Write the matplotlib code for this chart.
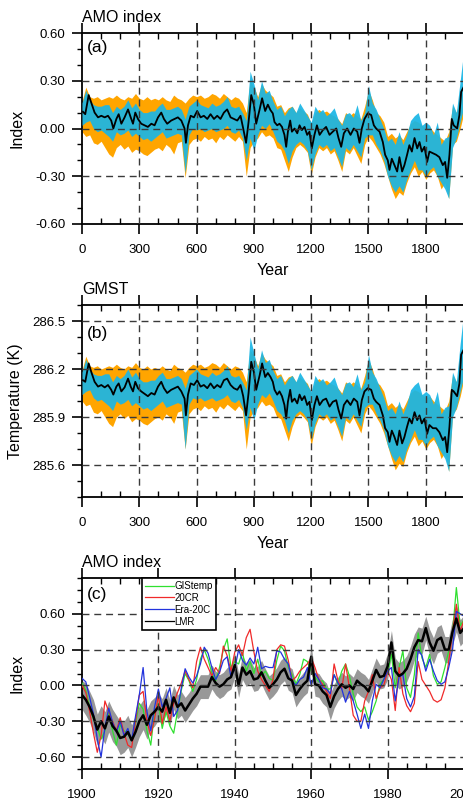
import numpy as np
import matplotlib
matplotlib.use("Agg")
import matplotlib.pyplot as plt
from matplotlib.ticker import MultipleLocator, FixedLocator, FormatStrFormatter

plt.rcParams['font.family'] = ['Liberation Sans', 'DejaVu Sans']
plt.rcParams['axes.unicode_minus'] = False

# ---------------- panel (a) / (b): ensemble mean (irregular years) ----------------
mean_years = [5, 17, 35, 49, 66, 84, 101, 119, 136, 153, 164, 180, 192, 206, 223, 241, 255, 267, 279, 293,
              310, 328, 345, 363, 380, 398, 415, 429, 446, 467, 485, 502, 520, 537, 544, 555, 569, 586, 603, 621,
              638, 656, 673, 691, 708, 725, 743, 760, 778, 795, 813, 830, 844, 859, 872, 886, 900, 912, 930, 943,
              959, 973, 987, 999, 1008, 1022, 1034, 1047, 1060, 1069, 1078, 1090, 1099, 1113, 1127, 1139, 1151,
              1165, 1179, 1191, 1203, 1217, 1230, 1244, 1261, 1278, 1296, 1313, 1331, 1343, 1357, 1371, 1388,
              1406, 1423, 1441, 1453, 1465, 1479, 1496, 1514, 1528, 1540, 1558, 1575, 1587, 1601, 1610, 1622,
              1636, 1650, 1662, 1676, 1688, 1702, 1714, 1727, 1741, 1755, 1767, 1779, 1793, 1807, 1819, 1837,
              1854, 1871, 1889, 1901, 1912, 1924, 1936, 1946, 1964, 1976, 1985, 1998]

amo_mean = [0.105, 0.09, 0.21, 0.16, 0.10, 0.07, 0.08, 0.07, 0.08, 0.05, 0.0, 0.06, 0.09, 0.03, 0.07, 0.12, 0.07,
            0.03, 0.10, 0.06, 0.03, 0.02, 0.01, 0.03, 0.02, 0.07, 0.10, 0.06, 0.03, 0.05, 0.06, 0.07, 0.05, 0.0,
            -0.09, 0.02, 0.08, 0.07, 0.11, 0.07, 0.08, 0.06, 0.09, 0.06, 0.08, 0.06, 0.10, 0.12, 0.07, 0.06, 0.05,
            0.08, 0.0, -0.09, 0.04, 0.21, 0.15, 0.03, 0.12, 0.19, 0.11, 0.15, 0.115, 0.095, 0.04, 0.02, 0.03, 0.01,
            -0.04, -0.115, -0.02, 0.05, -0.02, 0.0, -0.03, 0.02, -0.01, 0.01, -0.04, -0.02, -0.125, -0.04, 0.02,
            -0.04, -0.01, 0.01, -0.04, -0.02, 0.0, -0.06, -0.115, -0.03, 0.0, -0.04, 0.0, -0.02, -0.09, 0.0, 0.06,
            0.095, 0.085, 0.02, 0.0, -0.02, -0.085, -0.165, -0.2, -0.26, -0.19, -0.23, -0.27, -0.18, -0.27, -0.23,
            -0.165, -0.105, -0.145, -0.06, -0.125, -0.085, -0.145, -0.115, -0.21, -0.145, -0.155, -0.165, -0.18,
            -0.23, -0.21, -0.31, -0.165, 0.06, 0.02, 0.0, 0.085, 0.23, 0.26]

gmst_mean = [286.13, 286.12, 286.235, 286.18, 286.12, 286.09, 286.10, 286.085, 286.10, 286.07, 286.04, 286.09,
             286.11, 286.06, 286.085, 286.14, 286.09, 286.06, 286.12, 286.08, 286.06, 286.045, 286.03, 286.05,
             286.04, 286.09, 286.12, 286.08, 286.05, 286.07, 286.08, 286.09, 286.06, 286.015, 285.91, 286.04,
             286.11, 286.10, 286.13, 286.09, 286.10, 286.08, 286.11, 286.08, 286.10, 286.085, 286.13, 286.14,
             286.10, 286.08, 286.07, 286.10, 286.03, 285.91, 286.05, 286.245, 286.18, 286.07, 286.16, 286.235,
             286.15, 286.175, 286.15, 286.12, 286.07, 286.04, 286.06, 286.03, 285.975, 285.89, 285.995, 286.07,
             285.995, 286.015, 285.985, 286.04, 286.005, 286.03, 285.975, 285.995, 285.88, 285.975, 286.03,
             285.975, 286.005, 286.015, 285.965, 285.995, 286.005, 285.945, 285.89, 285.975, 286.005, 285.975,
             286.015, 285.995, 285.91, 286.005, 286.06, 286.08, 286.07, 286.015, 285.995, 285.975, 285.91, 285.83,
             285.805, 285.745, 285.815, 285.775, 285.725, 285.815, 285.735, 285.775, 285.84, 285.89, 285.86,
             285.93, 285.88, 285.91, 285.86, 285.89, 285.795, 285.85, 285.83, 285.83, 285.805, 285.755, 285.775,
             285.68, 285.84, 286.07, 286.06, 286.03, 286.11, 286.29, 286.32]

# ---------------- ensemble spread, every 20 years from 0 to 2000 ----------------
band_years = list(range(0, 2001, 20))

amo_orange_hi = [0.17, 0.26, 0.20, 0.19, 0.20, 0.18, 0.19, 0.20, 0.19, 0.21, 0.19, 0.18, 0.20, 0.19, 0.22, 0.19,
                 0.18, 0.20, 0.18, 0.19, 0.18, 0.20, 0.18, 0.17, 0.21, 0.19, 0.18, 0.16, 0.19, 0.21, 0.20, 0.21,
                 0.19, 0.20, 0.22, 0.21, 0.19, 0.22, 0.20, 0.18, 0.20, 0.19, 0.16, 0.10, 0.30, 0.26, 0.20, 0.28,
                 0.24, 0.22, 0.20, 0.14, 0.15, 0.10, 0.13, 0.14, 0.10, 0.13, 0.11, 0.09, 0.03, 0.10, 0.12, 0.10,
                 0.11, 0.09, 0.08, 0.06, 0.03, 0.10, 0.08, 0.10, 0.08, 0.06, 0.14, 0.24, 0.18, 0.10, 0.08, 0.04,
                 -0.05, -0.03, -0.06, -0.04, -0.07, -0.02, 0.03, 0.05, 0.04, 0.02, 0.00, 0.01, -0.02, -0.04, -0.06,
                 -0.08, -0.02, 0.14, 0.10, 0.20, 0.30]
amo_orange_lo = [-0.02, -0.05, -0.04, -0.09, -0.10, -0.08, -0.12, -0.16, -0.18, -0.12, -0.10, -0.13, -0.11, -0.15,
                 -0.13, -0.14, -0.16, -0.17, -0.15, -0.13, -0.12, -0.14, -0.10, -0.12, -0.16, -0.09, -0.08, -0.31,
                 -0.10, -0.07, -0.06, -0.08, -0.05, -0.07, -0.06, -0.09, -0.05, -0.07, -0.04, -0.06, -0.08, -0.05,
                 -0.08, -0.30, -0.12, -0.08, -0.06, -0.02, -0.05, -0.04, -0.06, -0.12, -0.13, -0.20, -0.27, -0.18,
                 -0.12, -0.10, -0.12, -0.15, -0.29, -0.18, -0.12, -0.14, -0.12, -0.16, -0.14, -0.20, -0.27, -0.14,
                 -0.16, -0.12, -0.17, -0.22, -0.10, -0.05, -0.08, -0.12, -0.16, -0.22, -0.30, -0.38, -0.44, -0.40,
                 -0.42, -0.34, -0.28, -0.24, -0.30, -0.27, -0.32, -0.28, -0.26, -0.30, -0.38, -0.34, -0.44, -0.10,
                 -0.08, 0.00, 0.10]
amo_cyan_hi = [0.16, 0.24, 0.18, 0.15, 0.14, 0.14, 0.15, 0.15, 0.10, 0.14, 0.12, 0.14, 0.18, 0.13, 0.16, 0.12,
               0.10, 0.10, 0.11, 0.11, 0.14, 0.16, 0.12, 0.12, 0.13, 0.14, 0.12, 0.06, 0.14, 0.16, 0.18, 0.15, 0.14,
               0.13, 0.16, 0.14, 0.15, 0.17, 0.20, 0.14, 0.13, 0.14, 0.10, 0.05, 0.36, 0.28, 0.18, 0.30, 0.22, 0.24,
               0.17, 0.12, 0.14, 0.08, 0.12, 0.14, 0.10, 0.16, 0.12, 0.08, 0.04, 0.14, 0.10, 0.12, 0.08, 0.10, 0.13,
               0.06, 0.02, 0.09, 0.10, 0.07, 0.15, 0.05, 0.10, 0.27, 0.16, 0.12, 0.06, 0.00, -0.08, -0.06, -0.10,
               -0.02, -0.10, -0.04, 0.05, 0.08, 0.10, 0.02, 0.04, 0.02, -0.04, 0.04, -0.10, -0.06, -0.05, 0.16,
               0.10, 0.30, 0.50]
amo_cyan_lo = [0.02, 0.04, 0.05, 0.00, -0.02, -0.01, -0.03, -0.05, -0.08, -0.02, -0.04, -0.03, -0.01, -0.05,
               -0.03, -0.05, -0.07, -0.06, -0.08, -0.06, -0.04, -0.02, -0.06, -0.05, -0.04, -0.03, -0.04, -0.28,
               -0.04, 0.00, -0.01, 0.00, -0.02, -0.01, 0.00, -0.02, -0.01, 0.00, 0.02, -0.02, -0.03, -0.01, -0.06,
               -0.20, -0.06, -0.14, -0.04, 0.02, 0.00, 0.03, -0.02, -0.08, -0.10, -0.14, -0.22, -0.14, -0.10,
               -0.08, -0.10, -0.14, -0.26, -0.16, -0.10, -0.12, -0.10, -0.14, -0.12, -0.18, -0.24, -0.12, -0.14,
               -0.10, -0.14, -0.18, -0.06, -0.04, -0.04, -0.10, -0.14, -0.20, -0.30, -0.36, -0.40, -0.36, -0.40,
               -0.32, -0.26, -0.20, -0.26, -0.26, -0.30, -0.26, -0.24, -0.30, -0.34, -0.38, -0.44, -0.12, -0.06,
               0.04, 0.14]

gmst_orange_hi = [286.19, 286.28, 286.22, 286.21, 286.22, 286.20, 286.21, 286.22, 286.21, 286.23, 286.21, 286.20,
                  286.22, 286.21, 286.24, 286.21, 286.20, 286.22, 286.20, 286.21, 286.20, 286.22, 286.20, 286.19,
                  286.23, 286.21, 286.20, 286.18, 286.21, 286.23, 286.22, 286.23, 286.21, 286.22, 286.24, 286.23,
                  286.21, 286.24, 286.22, 286.20, 286.22, 286.21, 286.18, 286.12, 286.32, 286.28, 286.22, 286.30,
                  286.26, 286.24, 286.22, 286.16, 286.17, 286.12, 286.15, 286.16, 286.12, 286.15, 286.13, 286.11,
                  286.05, 286.12, 286.14, 286.12, 286.13, 286.11, 286.10, 286.08, 286.05, 286.12, 286.10, 286.12,
                  286.10, 286.08, 286.16, 286.26, 286.20, 286.12, 286.10, 286.06, 285.97, 285.99, 285.96, 285.98,
                  285.95, 286.00, 286.05, 286.07, 286.06, 286.04, 286.02, 286.03, 286.00, 285.98, 285.96, 285.94,
                  286.00, 286.16, 286.12, 286.22, 286.36]
gmst_orange_lo = [286.00, 285.97, 285.98, 285.93, 285.92, 285.94, 285.90, 285.86, 285.84, 285.90, 285.92, 285.89,
                  285.91, 285.87, 285.89, 285.88, 285.86, 285.85, 285.87, 285.89, 285.90, 285.88, 285.92, 285.90,
                  285.86, 285.93, 285.94, 285.70, 285.92, 285.95, 285.96, 285.94, 285.97, 285.95, 285.96, 285.93,
                  285.97, 285.95, 285.98, 285.96, 285.94, 285.97, 285.94, 285.70, 285.90, 285.94, 285.96, 286.00,
                  285.97, 285.98, 285.96, 285.90, 285.89, 285.82, 285.75, 285.84, 285.90, 285.92, 285.90, 285.87,
                  285.72, 285.84, 285.90, 285.88, 285.90, 285.86, 285.88, 285.82, 285.75, 285.88, 285.86, 285.90,
                  285.85, 285.80, 285.92, 285.97, 285.94, 285.90, 285.86, 285.80, 285.72, 285.64, 285.57, 285.61,
                  285.59, 285.68, 285.74, 285.78, 285.72, 285.75, 285.70, 285.74, 285.76, 285.72, 285.64, 285.68,
                  285.56, 285.92, 285.95, 286.03, 286.14]
gmst_cyan_hi = [286.18, 286.26, 286.20, 286.17, 286.16, 286.16, 286.17, 286.17, 286.12, 286.16, 286.14, 286.16,
                286.20, 286.15, 286.18, 286.14, 286.12, 286.12, 286.13, 286.13, 286.16, 286.18, 286.14, 286.14,
                286.15, 286.16, 286.14, 286.08, 286.16, 286.18, 286.20, 286.17, 286.16, 286.15, 286.18, 286.16,
                286.17, 286.19, 286.22, 286.16, 286.15, 286.16, 286.12, 286.07, 286.40, 286.30, 286.20, 286.32,
                286.24, 286.26, 286.19, 286.14, 286.16, 286.10, 286.14, 286.16, 286.12, 286.18, 286.14, 286.10,
                286.06, 286.16, 286.12, 286.14, 286.10, 286.12, 286.15, 286.08, 286.04, 286.11, 286.12, 286.09,
                286.17, 286.07, 286.12, 286.29, 286.18, 286.14, 286.08, 286.02, 285.94, 285.96, 285.92, 286.00,
                285.92, 285.98, 286.07, 286.10, 286.12, 286.04, 286.06, 286.04, 285.98, 286.06, 285.92, 285.96,
                285.97, 286.18, 286.12, 286.36, 286.57]
gmst_cyan_lo = [286.04, 286.06, 286.07, 286.02, 286.00, 286.01, 285.99, 285.97, 285.94, 286.00, 285.98, 285.99,
                286.01, 285.97, 285.99, 285.97, 285.95, 285.96, 285.94, 285.96, 285.98, 286.00, 285.96, 285.97,
                285.98, 285.99, 285.98, 285.70, 285.98, 286.02, 286.01, 286.02, 286.00, 286.01, 286.02, 286.00,
                286.01, 286.02, 286.04, 286.00, 285.99, 286.01, 285.96, 285.82, 285.96, 285.88, 285.98, 286.04,
                286.02, 286.05, 286.00, 285.94, 285.92, 285.88, 285.80, 285.88, 285.92, 285.94, 285.92, 285.88,
                285.76, 285.86, 285.92, 285.90, 285.92, 285.88, 285.90, 285.84, 285.78, 285.90, 285.88, 285.92,
                285.88, 285.84, 285.96, 285.98, 285.98, 285.92, 285.88, 285.82, 285.72, 285.66, 285.62, 285.66,
                285.62, 285.70, 285.76, 285.82, 285.76, 285.76, 285.72, 285.76, 285.78, 285.72, 285.68, 285.64,
                285.56, 285.90, 285.96, 286.06, 286.16]

# ---------------- panel (c): annual AMO index 1900-2000 ----------------
c_years = list(range(1900, 2001))

gistemp = [0.02, -0.04, -0.18, -0.28, -0.35, -0.45, -0.38, -0.22, -0.38, -0.50, -0.33, -0.38, -0.40, -0.46, -0.32,
           -0.15, -0.20, -0.38, -0.50, -0.22, -0.15, -0.36, -0.22, -0.34, -0.40, -0.22, -0.04, 0.10, 0.04, -0.05,
           0.05, 0.22, 0.30, 0.22, 0.10, 0.04, 0.15, 0.30, 0.39, 0.15, 0.20, 0.18, 0.28, 0.12, 0.20, 0.10, 0.22,
           0.08, 0.12, 0.06, 0.04, 0.21, 0.33, 0.29, 0.15, 0.09, 0.01, 0.09, 0.22, 0.20, 0.12, 0.07, 0.03, 0.04,
           -0.03, -0.03, 0.09, 0.01, 0.12, 0.18, 0.08, -0.07, -0.18, -0.22, -0.18, -0.29, -0.22, -0.13, 0.01, 0.05,
           0.11, 0.26, -0.02, 0.15, 0.29, -0.02, -0.10, 0.09, 0.44, 0.23, 0.15, 0.26, 0.08, 0.01, 0.03, 0.15, 0.29,
           0.44, 0.82, 0.50, 0.55]
cr20 = [0.00, -0.06, -0.22, -0.40, -0.56, -0.42, -0.13, -0.22, -0.30, -0.38, -0.27, -0.40, -0.50, -0.52, -0.30,
        -0.08, -0.05, -0.30, -0.42, -0.28, -0.08, -0.32, -0.18, -0.30, -0.15, -0.06, 0.02, 0.12, 0.05, -0.02, 0.20,
        0.32, 0.22, 0.15, 0.08, 0.15, 0.10, 0.33, 0.25, 0.12, 0.28, 0.34, 0.25, 0.40, 0.47, 0.28, 0.12, 0.05, 0.00,
        -0.05, 0.05, 0.30, 0.34, 0.33, 0.21, 0.04, 0.07, 0.12, 0.15, 0.18, 0.23, 0.15, 0.05, 0.01, -0.05, -0.11,
        0.18, 0.04, -0.03, 0.18, -0.02, -0.25, -0.30, -0.30, -0.13, -0.05, 0.09, -0.11, -0.02, 0.00, 0.12, 0.05,
        -0.21, 0.15, -0.07, -0.17, -0.22, -0.15, 0.20, 0.05, 0.00, -0.05, -0.12, -0.14, -0.12, -0.02, 0.20, 0.45,
        0.68, 0.45, 0.55]
era20c = [0.06, 0.03, -0.10, -0.24, -0.45, -0.60, -0.35, -0.19, -0.31, -0.39, -0.30, -0.42, -0.36, -0.46, -0.26,
          -0.08, 0.15, -0.22, -0.38, -0.18, -0.03, -0.18, -0.11, -0.02, -0.26, -0.21, -0.02, 0.14, 0.07, 0.02, 0.08,
          0.18, 0.32, 0.27, 0.15, 0.05, 0.11, 0.21, 0.24, 0.07, 0.14, 0.30, 0.21, 0.17, 0.23, 0.18, 0.32, 0.14,
          0.16, 0.15, 0.15, 0.29, 0.28, 0.22, 0.18, 0.04, 0.00, 0.05, 0.07, 0.15, 0.00, 0.10, 0.05, -0.02, -0.03,
          -0.07, 0.09, 0.02, -0.03, -0.14, -0.05, -0.13, -0.24, -0.36, -0.24, -0.36, -0.13, 0.01, -0.02, 0.05, 0.12,
          0.15, -0.13, 0.07, 0.09, -0.11, -0.18, -0.09, 0.30, 0.25, 0.12, 0.22, 0.12, 0.04, 0.01, 0.03, 0.15, 0.30,
          0.62, 0.60, 0.58]
lmr = [-0.08, -0.12, -0.18, -0.26, -0.37, -0.30, -0.36, -0.26, -0.34, -0.38, -0.44, -0.43, -0.39, -0.46, -0.39,
       -0.30, -0.25, -0.33, -0.25, -0.22, -0.18, -0.22, -0.12, -0.23, -0.10, -0.18, -0.15, -0.21, -0.16, -0.11,
       -0.07, -0.01, -0.01, -0.01, 0.07, 0.02, -0.01, 0.01, 0.05, 0.07, 0.17, 0.00, 0.15, 0.09, 0.12, 0.05, 0.06,
       0.11, 0.04, -0.02, 0.01, 0.05, 0.11, 0.14, 0.06, 0.04, -0.08, -0.03, 0.01, 0.04, 0.24, 0.01, 0.00, -0.05,
       -0.08, -0.18, -0.09, -0.03, 0.01, -0.02, 0.00, -0.03, 0.04, 0.01, -0.01, -0.05, 0.04, 0.13, 0.07, 0.08,
       0.16, 0.36, 0.12, 0.08, 0.10, 0.14, 0.22, 0.32, 0.38, 0.37, 0.48, 0.36, 0.29, 0.38, 0.40, 0.30, 0.30, 0.45,
       0.56, 0.44, 0.48]
lmr_hi = [0.04, 0.02, -0.05, -0.12, -0.24, -0.17, -0.22, -0.13, -0.20, -0.25, -0.30, -0.30, -0.25, -0.33, -0.25,
          -0.17, -0.12, -0.20, -0.13, -0.10, -0.07, -0.11, -0.02, -0.12, 0.00, -0.08, -0.05, -0.10, -0.06, -0.01,
          0.03, 0.09, 0.09, 0.09, 0.17, 0.12, 0.09, 0.11, 0.15, 0.17, 0.27, 0.10, 0.25, 0.19, 0.22, 0.15, 0.16, 0.21,
          0.14, 0.08, 0.11, 0.15, 0.21, 0.24, 0.16, 0.14, 0.02, 0.07, 0.11, 0.14, 0.33, 0.11, 0.10, 0.05, 0.02,
          -0.07, 0.01, 0.07, 0.11, 0.08, 0.10, 0.07, 0.14, 0.11, 0.09, 0.05, 0.14, 0.23, 0.17, 0.18, 0.27, 0.46,
          0.23, 0.19, 0.21, 0.25, 0.33, 0.43, 0.49, 0.48, 0.58, 0.47, 0.40, 0.49, 0.51, 0.41, 0.41, 0.56, 0.67,
          0.55, 0.59]
lmr_lo = [-0.20, -0.25, -0.31, -0.39, -0.50, -0.43, -0.49, -0.39, -0.47, -0.51, -0.58, -0.56, -0.52, -0.60, -0.52,
          -0.43, -0.37, -0.45, -0.37, -0.34, -0.29, -0.33, -0.23, -0.34, -0.20, -0.28, -0.25, -0.31, -0.26, -0.21,
          -0.17, -0.11, -0.11, -0.11, -0.03, -0.08, -0.11, -0.09, -0.05, -0.03, 0.07, -0.10, 0.05, -0.01, 0.02,
          -0.05, -0.04, 0.01, -0.06, -0.12, -0.09, -0.05, 0.01, 0.04, -0.04, -0.06, -0.18, -0.13, -0.09, -0.06,
          0.14, -0.09, -0.10, -0.15, -0.18, -0.29, -0.19, -0.13, -0.09, -0.12, -0.10, -0.13, -0.06, -0.09, -0.11,
          -0.15, -0.06, 0.03, -0.03, -0.02, 0.05, 0.26, 0.01, -0.03, -0.01, 0.03, 0.11, 0.21, 0.27, 0.26, 0.38,
          0.25, 0.18, 0.27, 0.29, 0.19, 0.19, 0.34, 0.45, 0.33, 0.37]

ORANGE = '#FFA500'
CYAN = '#1BB6E6'
GRID = '#3a3a3a'

W, H = 463, 801
fig = plt.figure(figsize=(W / 100, H / 100), dpi=100)


def make_axes(top_px, bottom_px):
    left, right = 82, 464
    return fig.add_axes([left / W, 1 - bottom_px / H, (right - left) / W, (bottom_px - top_px) / H])


def style(ax, title, letter, letter_y, ylabel, hgrid, vgrid, xlabel=True):
    for s in ax.spines.values():
        s.set_linewidth(1.3)
    ax.tick_params(axis='x', which='major', direction='out', length=7, width=1.2, top=True,
                   labelsize=9.5, pad=7.5)
    ax.tick_params(axis='x', which='minor', direction='in', length=4, width=1.0, top=True)
    ax.tick_params(axis='y', which='major', direction='out', length=7, width=1.2, labelsize=9.5, pad=5)
    ax.tick_params(axis='y', which='minor', direction='out', length=3.5, width=1.0)
    for y in hgrid:
        ax.axhline(y, color=GRID, lw=1.0, dashes=(5, 3.5), zorder=6)
    for x in vgrid:
        ax.axvline(x, color=GRID, lw=1.0, dashes=(5, 3.5), zorder=6)
    ax.annotate(title, xy=(0, 1), xycoords='axes fraction', xytext=(0, 8), textcoords='offset points',
                ha='left', va='baseline', fontsize=11.5)
    ax.text(0.012, letter_y, letter, transform=ax.transAxes, ha='left', va='top', fontsize=12.5)
    ax.set_ylabel(ylabel, fontsize=11.5)
    if xlabel:
        ax.set_xlabel('Year', fontsize=11.5, labelpad=5)


# ---- (a) AMO index, 0-2000 ----
ax1 = make_axes(33, 224)
ax1.fill_between(band_years, amo_orange_lo, amo_orange_hi, color=ORANGE, lw=0, zorder=2)
ax1.fill_between(band_years, amo_cyan_lo, amo_cyan_hi, color=CYAN, alpha=0.93, lw=0, zorder=3)
ax1.plot(mean_years, amo_mean, color='black', lw=1.3, zorder=5)
ax1.set_xlim(0, 2000)
ax1.set_ylim(-0.6, 0.6)
ax1.xaxis.set_major_locator(MultipleLocator(300))
ax1.xaxis.set_minor_locator(MultipleLocator(100))
ax1.yaxis.set_major_locator(MultipleLocator(0.3))
ax1.yaxis.set_minor_locator(MultipleLocator(0.1))
ax1.yaxis.set_major_formatter(FormatStrFormatter('%.2f'))
style(ax1, 'AMO index', '(a)', 0.963, 'Index', [0.3, 0.0, -0.3], range(300, 1801, 300))
ax1.yaxis.set_label_coords(-0.15, 0.5)

# ---- (b) GMST, 0-2000 ----
ax2 = make_axes(305, 497)
ax2.fill_between(band_years, gmst_orange_lo, gmst_orange_hi, color=ORANGE, lw=0, zorder=2)
ax2.fill_between(band_years, gmst_cyan_lo, gmst_cyan_hi, color=CYAN, alpha=0.93, lw=0, zorder=3)
ax2.plot(mean_years, gmst_mean, color='black', lw=1.3, zorder=5)
ax2.set_xlim(0, 2000)
ax2.set_ylim(285.4, 286.6)
ax2.xaxis.set_major_locator(MultipleLocator(300))
ax2.xaxis.set_minor_locator(MultipleLocator(100))
ax2.yaxis.set_major_locator(FixedLocator([285.6, 285.9, 286.2, 286.5]))
ax2.yaxis.set_minor_locator(MultipleLocator(0.1))
ax2.yaxis.set_major_formatter(FormatStrFormatter('%.1f'))
style(ax2, 'GMST', '(b)', 0.89, 'Temperature (K)', [286.5, 286.2, 285.9, 285.6], range(300, 1801, 300))
ax2.yaxis.set_label_coords(-0.155, 0.5)

# ---- (c) AMO index, 1900-2000 ----
ax3 = make_axes(578, 769)
ax3.fill_between(c_years, lmr_lo, lmr_hi, color='#989898', lw=0, zorder=2)
ax3.plot(c_years, gistemp, color='#2fe02f', lw=0.9, zorder=3, label='GIStemp')
ax3.plot(c_years, cr20, color='#f02a2a', lw=0.9, zorder=3, label='20CR')
ax3.plot(c_years, era20c, color='#2233dd', lw=0.9, zorder=3, label='Era-20C')
ax3.plot(c_years, lmr, color='black', lw=1.8, zorder=4, label='LMR')
ax3.set_xlim(1900, 2000)
ax3.set_ylim(-0.7, 0.9)
ax3.xaxis.set_major_locator(MultipleLocator(20))
ax3.xaxis.set_minor_locator(MultipleLocator(5))
ax3.yaxis.set_major_locator(FixedLocator([-0.6, -0.3, 0.0, 0.3, 0.6]))
ax3.yaxis.set_minor_locator(MultipleLocator(0.1))
ax3.yaxis.set_major_formatter(FormatStrFormatter('%.2f'))
style(ax3, 'AMO index', '(c)', 0.953, 'Index', [0.6, 0.3, 0.0, -0.3, -0.6], [1920, 1940, 1960, 1980],
      xlabel=False)
ax3.yaxis.set_label_coords(-0.15, 0.5)
leg = ax3.legend(loc='upper left', bbox_to_anchor=(0.156, 1.0), borderaxespad=0, fontsize=7,
                 handlelength=3.0, handletextpad=0.1, labelspacing=0.2, borderpad=0.3,
                 fancybox=False, framealpha=1, edgecolor='black')
leg.get_frame().set_linewidth(1.2)
for line in leg.get_lines():
    line.set_linewidth(0.9)
leg.set_zorder(10)

fig.savefig('out.png', dpi=100)
